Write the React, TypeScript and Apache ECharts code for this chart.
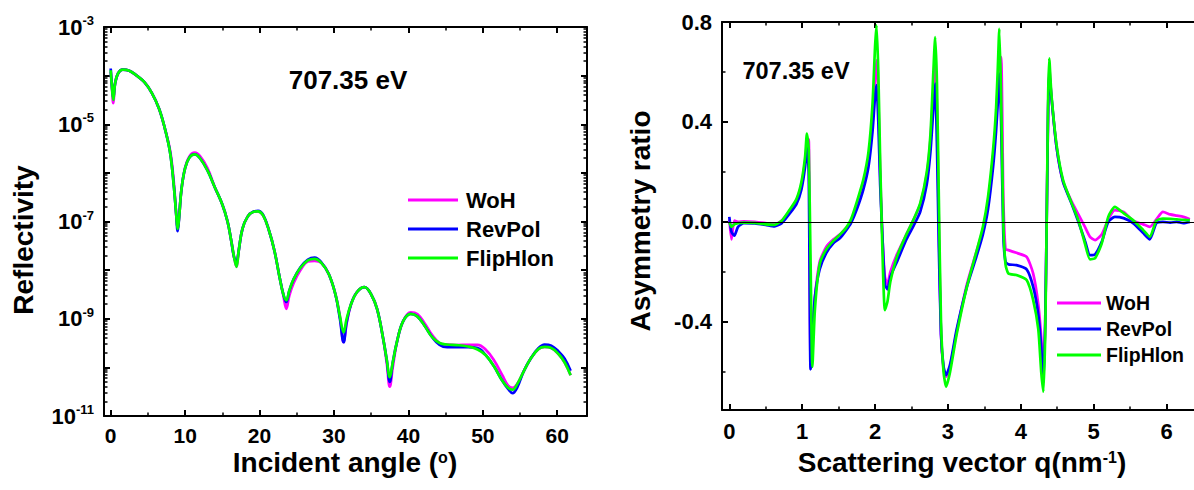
import React, { useEffect, useRef } from 'react';
import * as echarts from 'echarts';

const FONT = '"Liberation Sans", Arial, Helvetica, sans-serif';

// ---------- Left panel: reflectivity vs incident angle ----------
const angle = [
  0, 0.15, 0.35, 0.6, 1.0, 1.6, 2.5, 3.5, 4.5, 5.5,
  6.5, 7.3, 8.0, 8.5, 8.8, 9.0, 9.2, 9.5, 10.0, 10.6,
  11.3, 12.0, 13.0, 14.0, 15.0, 15.7, 16.2, 16.6, 16.9, 17.2,
  17.7, 18.4, 19.2, 19.8, 20.5, 21.3, 22.0, 22.7, 23.2, 23.6,
  24.0, 24.6, 25.5, 26.5, 27.4, 28.3, 29.3, 30.2, 30.8, 31.3,
  31.7, 32.3, 33.1, 34.1, 35.0, 35.8, 36.6, 37.1, 37.5, 37.9,
  38.5, 39.3, 40.3, 41.2, 42.2, 43.2, 44.2, 45.2, 46.5, 48.0,
  49.3, 50.4, 51.5, 52.6, 53.4, 54.0, 54.6, 55.5, 56.5, 57.5,
  58.3, 59.2, 60.2, 61.0, 61.8,
];

const reflWoH = [
  1.2e-4, 6.3e-5, 2.7e-5, 7.08e-5, 1.12e-4, 1.33e-4, 1.26e-4, 1.0e-4, 7.41e-5, 4.47e-5,
  2.09e-5, 7.94e-6, 2.8e-6, 6.0e-7, 1.41e-7, 7.08e-8, 1.26e-7, 4.47e-7, 1.26e-6, 2.2e-6,
  2.6e-6, 2.2e-6, 1.25e-6, 5.01e-7, 2.24e-7, 1.0e-7, 3.98e-8, 1.78e-8, 1.17e-8, 2.51e-8,
  7.08e-8, 1.26e-7, 1.58e-7, 1.62e-7, 1.32e-7, 6.31e-8, 2.51e-8, 7.08e-9, 3.0e-9, 1.6e-9,
  3.0e-9, 5.5e-9, 1.0e-8, 1.5e-8, 1.55e-8, 1.41e-8, 8.32e-9, 3.16e-9, 1.12e-9, 3.3e-10,
  8.0e-10, 2.0e-9, 3.55e-9, 4.47e-9, 3.16e-9, 1.58e-9, 3.98e-10, 1.2e-10, 4.0e-11, 1.0e-10,
  3.55e-10, 8.91e-10, 1.35e-9, 1.25e-9, 8.0e-10, 4.6e-10, 3.16e-10, 2.95e-10, 2.88e-10, 2.9e-10,
  2.9e-10, 2.3e-10, 1.4e-10, 7.0e-11, 4.2e-11, 3.8e-11, 4.47e-11, 8.32e-11, 1.58e-10, 2.40e-10,
  2.63e-10, 2.51e-10, 1.86e-10, 1.26e-10, 6.92e-11,
];

const reflRevPol = [
  1.4e-4, 6.5e-5, 3.5e-5, 7.08e-5, 1.12e-4, 1.33e-4, 1.26e-4, 1.0e-4, 7.41e-5, 4.47e-5,
  2.09e-5, 7.94e-6, 2.51e-6, 5.01e-7, 1.41e-7, 6.3e-8, 1.26e-7, 4.47e-7, 1.26e-6, 2.09e-6,
  2.40e-6, 2.0e-6, 1.12e-6, 5.01e-7, 2.24e-7, 1.0e-7, 3.98e-8, 1.78e-8, 1.5e-8, 2.51e-8,
  7.08e-8, 1.26e-7, 1.6e-7, 1.65e-7, 1.35e-7, 6.31e-8, 2.51e-8, 7.08e-9, 3.16e-9, 2.2e-9,
  3.80e-9, 6.61e-9, 1.15e-8, 1.65e-8, 1.8e-8, 1.45e-8, 8.32e-9, 3.16e-9, 1.0e-9, 3.3e-10,
  8.5e-10, 2.0e-9, 3.55e-9, 4.47e-9, 3.16e-9, 1.58e-9, 3.98e-10, 1.41e-10, 5.0e-11, 1.26e-10,
  3.55e-10, 8.91e-10, 1.26e-9, 1.12e-9, 7.08e-10, 4.17e-10, 2.9e-10, 2.6e-10, 2.6e-10, 2.6e-10,
  2.5e-10, 1.78e-10, 1.05e-10, 5.37e-11, 3.6e-11, 2.95e-11, 3.8e-11, 8.32e-11, 1.58e-10, 2.5e-10,
  2.95e-10, 2.8e-10, 2.1e-10, 1.5e-10, 8.5e-11,
];

const reflFlipHlon = [
  1.29e-4, 6.3e-5, 3.16e-5, 7.08e-5, 1.12e-4, 1.33e-4, 1.26e-4, 1.0e-4, 7.41e-5, 4.47e-5,
  2.09e-5, 7.94e-6, 2.51e-6, 5.01e-7, 1.41e-7, 7.08e-8, 1.26e-7, 4.47e-7, 1.26e-6, 2.09e-6,
  2.40e-6, 2.0e-6, 1.12e-6, 5.01e-7, 2.24e-7, 1.0e-7, 3.98e-8, 1.78e-8, 1.17e-8, 2.51e-8,
  7.08e-8, 1.26e-7, 1.58e-7, 1.62e-7, 1.32e-7, 6.31e-8, 2.51e-8, 7.08e-9, 3.16e-9, 2.40e-9,
  3.80e-9, 6.61e-9, 1.12e-8, 1.58e-8, 1.70e-8, 1.41e-8, 8.32e-9, 3.16e-9, 1.12e-9, 5.25e-10,
  1.0e-9, 2.0e-9, 3.55e-9, 4.47e-9, 3.16e-9, 1.58e-9, 3.98e-10, 1.41e-10, 6.31e-11, 1.26e-10,
  3.55e-10, 8.91e-10, 1.26e-9, 1.12e-9, 7.08e-10, 4.17e-10, 3.16e-10, 2.95e-10, 2.88e-10, 2.69e-10,
  2.34e-10, 1.78e-10, 1.05e-10, 5.37e-11, 3.80e-11, 3.47e-11, 4.47e-11, 8.32e-11, 1.58e-10, 2.40e-10,
  2.63e-10, 2.51e-10, 1.86e-10, 1.26e-10, 6.92e-11,
];

// ---------- Right panel: asymmetry ratio vs q ----------
const q = [
  0, 0.03, 0.07, 0.12, 0.2, 0.35, 0.5, 0.62, 0.72, 0.82,
  0.92, 0.99, 1.04, 1.065, 1.09, 1.115, 1.14, 1.175, 1.24, 1.33,
  1.43, 1.52, 1.6, 1.67, 1.75, 1.84, 1.91, 1.965, 2.0, 2.02,
  2.045, 2.07, 2.1, 2.135, 2.17, 2.21, 2.3, 2.43, 2.53, 2.62,
  2.71, 2.76, 2.8, 2.825, 2.85, 2.875, 2.905, 2.94, 2.975, 3.03,
  3.12, 3.26, 3.39, 3.48, 3.55, 3.62, 3.66, 3.685, 3.705, 3.73,
  3.76, 3.79, 3.83, 3.94, 4.08, 4.17, 4.24, 4.28, 4.31, 4.335,
  4.355, 4.375, 4.39, 4.42, 4.49, 4.58, 4.7, 4.79, 4.88, 4.95,
  5.02, 5.11, 5.2, 5.29, 5.41, 5.54, 5.68, 5.77, 5.86, 5.95,
  6.05, 6.14, 6.23, 6.32,
];

const asymWoH = [
  0.01, -0.07, 0.005, 0.0, 0.002, 0.0, -0.005, -0.01, 0.005, 0.04,
  0.085, 0.15, 0.24, 0.31, 0.33, -0.55, -0.45, -0.3, -0.16, -0.1,
  -0.07, -0.05, -0.025, 0.0, 0.065, 0.15, 0.25, 0.42, 0.58, 0.647,
  0.5, 0.2, -0.05, -0.22, -0.25, -0.2, -0.13, -0.05, 0.01, 0.07,
  0.19, 0.33, 0.52, 0.647, 0.45, 0.0, -0.45, -0.59, -0.62, -0.58,
  -0.44, -0.25, -0.12, -0.03, 0.08, 0.26, 0.4, 0.55, 0.64, 0.66,
  0.1, -0.11, -0.113, -0.124, -0.14, -0.207, -0.33, -0.46, -0.593, -0.4,
  0.0, 0.45, 0.62, 0.5, 0.3, 0.16, 0.08, 0.03, -0.02, -0.06,
  -0.073, -0.05, 0.01, 0.047, 0.04, 0.005, -0.01, -0.02, 0.01, 0.04,
  0.03, 0.025, 0.02, 0.01,
];

const asymRevPol = [
  0.02, -0.04, -0.055, -0.02, -0.005, -0.006, -0.012, -0.018, -0.005, 0.03,
  0.07, 0.13, 0.22, 0.3, 0.2, -0.59, -0.45, -0.3, -0.19, -0.125,
  -0.085, -0.065, -0.035, -0.005, 0.05, 0.13, 0.22, 0.36, 0.5, 0.547,
  0.4, 0.15, -0.05, -0.25, -0.27, -0.22, -0.16, -0.07, -0.015, 0.04,
  0.15, 0.28, 0.45, 0.553, 0.3, -0.1, -0.45, -0.58, -0.613, -0.57,
  -0.43, -0.26, -0.14, -0.05, 0.05, 0.22, 0.36, 0.48, 0.593, 0.4,
  -0.05, -0.16, -0.17, -0.173, -0.19, -0.26, -0.37, -0.5, -0.647, -0.4,
  0.0, 0.45, 0.6, 0.5, 0.3, 0.16, 0.07, 0.0, -0.075, -0.133,
  -0.13, -0.08, 0.0, 0.02, 0.015, -0.005, -0.045, -0.07, -0.005, 0.0,
  -0.003, 0.0, -0.005, 0.0,
];

const asymFlipHlon = [
  0, -0.02, -0.01, -0.005, -0.003, -0.004, -0.01, -0.012, 0.005, 0.045,
  0.09, 0.16, 0.26, 0.353, 0.29, -0.15, -0.58, -0.35, -0.17, -0.11,
  -0.075, -0.05, -0.025, 0.01, 0.08, 0.17, 0.28, 0.47, 0.7, 0.787,
  0.6, 0.25, -0.1, -0.353, -0.32, -0.24, -0.14, -0.05, 0.01, 0.075,
  0.2, 0.35, 0.6, 0.74, 0.55, 0.1, -0.4, -0.6, -0.66, -0.6,
  -0.45, -0.26, -0.12, -0.02, 0.1, 0.29, 0.45, 0.62, 0.773, 0.5,
  0.0, -0.17, -0.207, -0.213, -0.233, -0.313, -0.43, -0.6, -0.68, -0.45,
  0.0, 0.5, 0.655, 0.51, 0.31, 0.167, 0.073, 0.007, -0.087, -0.15,
  -0.145, -0.087, 0.02, 0.06, 0.035, 0.007, -0.033, -0.06, 0.005, 0.013,
  0.012, 0.01, 0.008, 0.007,
];

const seriesNames = ['WoH', 'RevPol', 'FlipHlon'];
const seriesColors = ['#FF00FF', '#0000FF', '#00FF00'];
const reflSets = [reflWoH, reflRevPol, reflFlipHlon];
const asymSets = [asymWoH, asymRevPol, asymFlipHlon];

// Tick values
const angleTicks = [0, 10, 20, 30, 40, 50, 60];
const angleMinorTicks = [5, 15, 25, 35, 45, 55];
const reflDecades = [1e-11, 1e-10, 1e-9, 1e-8, 1e-7, 1e-6, 1e-5, 1e-4, 1e-3];
const reflLabelTicks = [1e-11, 1e-9, 1e-7, 1e-5, 1e-3];
const qTicks = [0, 1, 2, 3, 4, 5, 6];
const qMinorTicks = [0.5, 1.5, 2.5, 3.5, 4.5, 5.5];
const asymTicks = [-0.4, 0, 0.4, 0.8];
const asymMinorTicks = [-0.6, -0.2, 0.2, 0.6];
const energyLabel = '707.35 eV';

const reflMinorTicks: number[] = [];
reflDecades.slice(0, -1).forEach((d) => {
  for (let m = 2; m <= 9; m++) reflMinorTicks.push(m * d);
});

const black = '#000';

function axisGroup(opts: {
  dim: 'x' | 'y';
  gridIndex: number;
  type: 'value' | 'log';
  min: number;
  max: number;
  major: number[];
  minor: number[];
  labels: number[];
  formatter: any;
  fontSize: number;
  margin: number;
  rich?: any;
}) {
  const { dim, gridIndex, type, min, max, major, minor, labels, formatter, fontSize, margin, rich } = opts;
  const pos = dim === 'x' ? ['bottom', 'top'] : ['left', 'right'];
  const base: any = { gridIndex, type, min, max, splitLine: { show: false }, silent: true };
  if (type === 'log') base.logBase = 10;
  const line = { show: true, onZero: false, lineStyle: { color: black, width: 2 } };
  const noLine = { show: false, onZero: false };
  const majorTick = { show: true, inside: true, length: 6, customValues: major, lineStyle: { color: black, width: 2 } };
  const minorTick = { show: true, inside: true, length: 3.5, customValues: minor, lineStyle: { color: black, width: 1.5 } };
  return [
    {
      ...base,
      position: pos[0],
      axisLine: line,
      axisTick: majorTick,
      axisLabel: {
        show: true,
        customValues: labels,
        formatter,
        margin,
        color: black,
        fontSize,
        fontWeight: 'bold',
        fontFamily: FONT,
        rich,
      },
    },
    { ...base, position: pos[0], axisLine: noLine, axisTick: minorTick, axisLabel: { show: false } },
    { ...base, position: pos[1], axisLine: line, axisTick: majorTick, axisLabel: { show: false } },
    { ...base, position: pos[1], axisLine: noLine, axisTick: minorTick, axisLabel: { show: false } },
  ];
}

export default function App() {
  const ref = useRef<HTMLDivElement>(null);

  useEffect(() => {
    if (!ref.current) return;
    const chart = echarts.init(ref.current, undefined, { renderer: 'svg' });

    const logRich = {
      b: { fontSize: 22, fontWeight: 'bold', fontFamily: FONT, color: black, lineHeight: 26 },
      s: { fontSize: 13, fontWeight: 'bold', fontFamily: FONT, color: black, verticalAlign: 'top', lineHeight: 14 },
    };

    const xAxes = [
      ...axisGroup({
        dim: 'x', gridIndex: 0, type: 'value', min: -0.9, max: 64,
        major: angleTicks, minor: angleMinorTicks, labels: angleTicks,
        formatter: (v: number) => String(Math.round(v)), fontSize: 21, margin: 9,
      }),
      ...axisGroup({
        dim: 'x', gridIndex: 1, type: 'value', min: -0.1, max: 6.5,
        major: qTicks, minor: qMinorTicks, labels: qTicks,
        formatter: (v: number) => String(Math.round(v)), fontSize: 22, margin: 10,
      }),
    ];

    const yAxes = [
      ...axisGroup({
        dim: 'y', gridIndex: 0, type: 'log', min: 1e-11, max: 1e-3,
        major: reflDecades, minor: reflMinorTicks, labels: reflLabelTicks,
        formatter: (v: number) => `{b|10}{s|${Math.round(Math.log10(v))}}`,
        fontSize: 22, margin: 10, rich: logRich,
      }),
      ...axisGroup({
        dim: 'y', gridIndex: 1, type: 'value', min: -0.753, max: 0.8,
        major: asymTicks, minor: asymMinorTicks, labels: asymTicks,
        formatter: (v: number) => v.toFixed(1), fontSize: 22, margin: 10,
      }),
    ];

    const leftSeries = seriesNames.map((name, i) => ({
      type: 'line',
      name,
      xAxisIndex: 0,
      yAxisIndex: 0,
      data: angle.map((a, j) => [a, reflSets[i][j]]),
      symbol: 'none',
      showSymbol: false,
      smooth: 0.4,
      color: seriesColors[i],
      lineStyle: { color: seriesColors[i], width: 2.7 },
      itemStyle: { color: seriesColors[i] },
      z: 2 + i,
      silent: true,
    }));

    const rightSeries = seriesNames.map((name, i) => ({
      type: 'line',
      name,
      xAxisIndex: 4,
      yAxisIndex: 4,
      data: q.map((x, j) => [x, asymSets[i][j]]),
      symbol: 'none',
      showSymbol: false,
      smooth: 0.2,
      color: seriesColors[i],
      lineStyle: { color: seriesColors[i], width: 2.7 },
      itemStyle: { color: seriesColors[i] },
      z: 2 + i,
      silent: true,
      markLine:
        i === 0
          ? {
              silent: true,
              symbol: 'none',
              label: { show: false },
              lineStyle: { color: black, width: 1, type: 'solid' },
              data: [{ yAxis: 0 }],
            }
          : undefined,
    }));

    const titleStyle = { fontSize: 28, fontWeight: 'bold', fontFamily: FONT, fill: black };
    const supStyle = { fontSize: 16, fontWeight: 'bold', fontFamily: FONT, fill: black, verticalAlign: 'top', lineHeight: 14 };

    const option: any = {
      animation: false,
      backgroundColor: '#fff',
      grid: [
        { left: 104, top: 27, width: 483, height: 389, outerBoundsMode: 'none', containLabel: false },
        { left: 722, top: 22, width: 481, height: 388, outerBoundsMode: 'none', containLabel: false },
      ],
      xAxis: xAxes,
      yAxis: yAxes,
      legend: [
        {
          data: seriesNames,
          left: 408,
          top: 189,
          padding: 0,
          orient: 'vertical',
          icon: 'rect',
          itemWidth: 50,
          itemHeight: 3,
          itemGap: 7,
          selectedMode: false,
          textStyle: { fontSize: 22, fontWeight: 'bold', fontFamily: FONT, color: black, padding: [0, 0, 0, 3] },
        },
        {
          data: seriesNames,
          left: 1057,
          top: 293,
          padding: 0,
          orient: 'vertical',
          icon: 'rect',
          itemWidth: 44,
          itemHeight: 3,
          itemGap: 6,
          selectedMode: false,
          textStyle: { fontSize: 19.5, fontWeight: 'bold', fontFamily: FONT, color: black },
        },
      ],
      series: [...leftSeries, ...rightSeries],
      graphic: [
        {
          type: 'text', x: 23, y: 240, rotation: Math.PI / 2,
          style: { text: 'Reflectivity', ...titleStyle, align: 'center', verticalAlign: 'middle' },
        },
        {
          type: 'text', x: 345, y: 462,
          style: {
            text: '{a|Incident angle (}{s|o}{a|)}',
            align: 'center', verticalAlign: 'middle',
            rich: { a: { ...titleStyle, lineHeight: 26 }, s: supStyle },
          },
        },
        {
          type: 'text', x: 640, y: 221, rotation: Math.PI / 2,
          style: { text: 'Asymmetry ratio', ...titleStyle, align: 'center', verticalAlign: 'middle' },
        },
        {
          type: 'text', x: 962, y: 462,
          style: {
            text: '{a|Scattering vector q(nm}{s|-1}{a|)}',
            align: 'center', verticalAlign: 'middle',
            rich: { a: { ...titleStyle, lineHeight: 26 }, s: supStyle },
          },
        },
        {
          type: 'text', x: 348, y: 80,
          style: { text: energyLabel, fontSize: 26, fontWeight: 'bold', fontFamily: FONT, fill: black, align: 'center', verticalAlign: 'middle' },
        },
        {
          type: 'text', x: 796, y: 71,
          style: { text: energyLabel, fontSize: 23.5, fontWeight: 'bold', fontFamily: FONT, fill: black, align: 'center', verticalAlign: 'middle' },
        },
      ],
    };

    chart.setOption(option);
    return () => chart.dispose();
  }, []);

  return (
    <div
      ref={ref}
      style={{ position: 'absolute', left: 0, top: 0, width: 1194, height: 490, background: '#fff' }}
    />
  );
}
